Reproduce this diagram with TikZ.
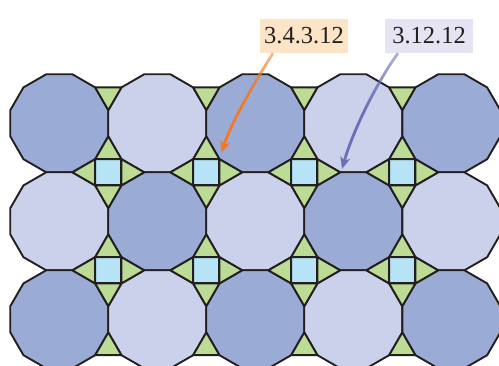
\documentclass[tikz,border=0pt]{standalone}
\usepackage{fontspec}
\setmainfont{Liberation Serif}
\usetikzlibrary{calc,arrows.meta,fadings}
\definecolor{dodark}{HTML}{9AACD6}
\definecolor{dolight}{HTML}{CBD1EA}
\definecolor{trigreen}{HTML}{BCDB95}
\definecolor{sqblue}{HTML}{B6E3F6}
\definecolor{edge}{HTML}{231F20}
\definecolor{boxorange}{HTML}{FCE4C6}
\definecolor{boxlav}{HTML}{E6E4F2}
\definecolor{arrorange}{HTML}{F07A2A}
\definecolor{arrblue}{HTML}{6B6FB5}
\definecolor{txtgray}{HTML}{231F20}
\begin{tikzfadingfrompicture}[name=calloutfade]
\fill[transparent!0] (-50bp,-50bp) rectangle (50bp,0bp);
\shade[top color=transparent!95, bottom color=transparent!0] (-50bp,0bp) rectangle (50bp,50bp);
\end{tikzfadingfrompicture}
\tikzset{
  tile/.style={draw=edge, line width=1.9pt, line join=miter},
  lbl/.style={minimum width=88pt, minimum height=34pt, inner sep=0pt, text=txtgray, font=\fontsize{24.5}{24.5}\selectfont},
  callout/.style={line width=2.8pt, -{Stealth[length=12pt,width=10pt,inset=3.5pt]}, path fading=calloutfade},
}
\newcommand\dodec[3]{%
  \path[tile, fill=#3] (#1,#2) +(15:50.73) -- +(45:50.73) -- +(75:50.73) -- +(105:50.73) -- +(135:50.73) -- +(165:50.73) -- +(195:50.73) -- +(225:50.73) -- +(255:50.73) -- +(285:50.73) -- +(315:50.73) -- +(345:50.73) -- cycle;}
\newcommand\startile[2]{%
  \path[tile, fill=sqblue] (#1-13.13,#2-13.13) rectangle (#1+13.13,#2+13.13);
  \path[tile, fill=trigreen] (#1-13.13,#2-13.13) -- (#1+13.13,#2-13.13) -- (#1,#2-35.87) -- cycle;
  \path[tile, fill=trigreen] (#1-13.13,#2+13.13) -- (#1+13.13,#2+13.13) -- (#1,#2+35.87) -- cycle;
  \path[tile, fill=trigreen] (#1-13.13,#2-13.13) -- (#1-13.13,#2+13.13) -- (#1-35.87,#2) -- cycle;
  \path[tile, fill=trigreen] (#1+13.13,#2-13.13) -- (#1+13.13,#2+13.13) -- (#1+35.87,#2) -- cycle;}
\newcommand\toptri[2]{%
  \path[tile, fill=trigreen] (#1-13.13,#2+13.13) -- (#1+13.13,#2+13.13) -- (#1,#2+35.87) -- cycle;}
\newcommand\bottri[2]{%
  \path[tile, fill=trigreen] (#1-13.13,#2-13.13) -- (#1+13.13,#2-13.13) -- (#1,#2-35.87) -- cycle;}
\begin{document}
\begin{tikzpicture}[x=1pt, y=-1pt]
\useasboundingbox (0,0) rectangle (499,366);
\begin{scope}
\clip (0,0) rectangle (499,366);
% row 0
\dodec{59.3}{123.3}{dodark}
\dodec{157.3}{123.3}{dolight}
\dodec{255.3}{123.3}{dodark}
\dodec{353.3}{123.3}{dolight}
\dodec{451.3}{123.3}{dodark}
% row 1
\dodec{59.3}{221.3}{dolight}
\dodec{157.3}{221.3}{dodark}
\dodec{255.3}{221.3}{dolight}
\dodec{353.3}{221.3}{dodark}
\dodec{451.3}{221.3}{dolight}
% row 2
\dodec{59.3}{319.3}{dodark}
\dodec{157.3}{319.3}{dolight}
\dodec{255.3}{319.3}{dodark}
\dodec{353.3}{319.3}{dolight}
\dodec{451.3}{319.3}{dodark}
% stars and edge triangles
\foreach \x in {108.3,206.3,304.3,402.3}{
  \toptri{\x}{74.3}
  \startile{\x}{172.3}
  \startile{\x}{270.3}
  \bottri{\x}{368.3}
}
\end{scope}
% labels
\node[lbl, fill=boxorange] (l1) at (304,36) {3.4.3.12};
\node[lbl, fill=boxlav] (l2) at (429,36) {3.12.12};
\coordinate (v1) at (221.5,153);
\coordinate (v2) at (342,169);
\coordinate (s1) at ($(l1.south west)!0.15!(l1.south east)$);
\coordinate (s2) at ($(l2.south west)!0.15!(l2.south east)$);
\draw[callout, arrorange] (s1) .. controls ($(s1)+(-13,20)$) and ($(v1)+(10,-32)$) .. (v1);
\draw[callout, arrblue] (s2) .. controls ($(s2)+(-18,24)$) and ($(v2)+(12,-42)$) .. (v2);
\end{tikzpicture}
\end{document}
